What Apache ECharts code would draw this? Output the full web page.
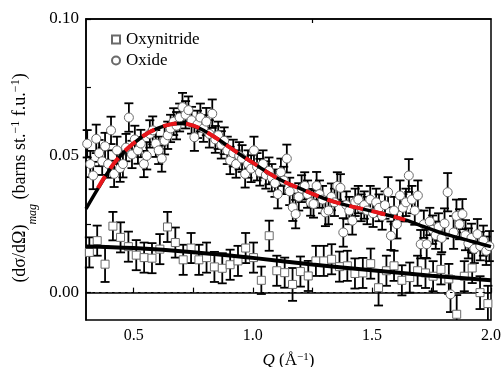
<!DOCTYPE html>
<html>
<head>
<meta charset="utf-8">
<script src="https://cdn.jsdelivr.net/npm/echarts@6/dist/echarts.min.js"></script>
<style>
html,body{margin:0;padding:0;background:#fff;}
#chart{width:502px;height:367px;}
</style>
</head>
<body>
<div id="chart"></div>
<script>
// Magnetic scattering cross-section vs Q for the oxide and oxynitride samples

const oxideQ = [0.305,0.318,0.330,0.343,0.355,0.368,0.380,0.393,0.405,0.418,0.430,0.443,0.455,0.468,0.480,0.493,
  0.505,0.518,0.530,0.543,0.555,0.568,0.580,0.593,0.605,0.618,0.630,0.643,0.655,0.668,0.680,0.693,
  0.705,0.718,0.730,0.743,0.755,0.768,0.780,0.793,0.805,0.818,0.830,0.843,0.855,0.868,0.880,0.893,
  0.905,0.918,0.930,0.943,0.955,0.968,0.980,0.993,1.005,1.018,1.030,1.043,1.055,1.068,1.080,1.093,
  1.105,1.118,1.130,1.143,1.155,1.168,1.180,1.193,1.205,1.218,1.230,1.243,1.255,1.268,1.280,1.293,
  1.305,1.318,1.330,1.343,1.355,1.368,1.380,1.393,1.405,1.418,1.430,1.443,1.455,1.468,1.480,1.493,
  1.505,1.518,1.530,1.543,1.555,1.568,1.580,1.593,1.605,1.618,1.630,1.643,1.655,1.668,1.680,1.693,
  1.705,1.718,1.730,1.743,1.755,1.768,1.780,1.793,1.805,1.818,1.830,1.843,1.855,1.868,1.880,1.893,
  1.905,1.918,1.930,1.943,1.955,1.968,1.980,1.993];

const oxideVal = [0.0544,0.0470,0.0428,0.0562,0.0510,0.0480,0.0535,0.0470,0.0593,0.0434,0.0520,0.0455,0.0470,0.0530,0.0640,0.0505,
  0.0560,0.0520,0.0545,0.0470,0.0500,0.0580,0.0593,0.0545,0.0520,0.0490,0.0555,0.0575,0.0600,0.0625,0.0610,0.0640,
  0.0678,0.0650,0.0667,0.0630,0.0568,0.0615,0.0640,0.0600,0.0625,0.0580,0.0654,0.0560,0.0575,0.0540,0.0555,0.0520,
  0.0483,0.0510,0.0470,0.0500,0.0490,0.0434,0.0470,0.0453,0.0520,0.0460,0.0440,0.0470,0.0430,0.0445,0.0420,0.0400,
  0.0360,0.0440,0.0410,0.0490,0.0370,0.0312,0.0287,0.0350,0.0380,0.0390,0.0360,0.0330,0.0324,0.0390,0.0360,0.0340,
  0.0293,0.0300,0.0350,0.0330,0.0390,0.0383,0.0220,0.0320,0.0300,0.0263,0.0330,0.0340,0.0310,0.0320,0.0300,0.0340,
  0.0290,0.0330,0.0310,0.0280,0.0320,0.0367,0.0208,0.0300,0.0250,0.0355,0.0310,0.0330,0.0428,0.0340,0.0300,0.0355,
  0.0177,0.0250,0.0177,0.0260,0.0230,0.0210,0.0240,0.0200,0.0253,0.0367,-0.0006,0.0220,0.0280,0.0250,0.0287,0.0210,
  0.0180,0.0200,0.0160,0.0214,0.0170,0.0190,0.0153,0.0170];

const oxideErr = [0.0050,0.0048,0.0050,0.0052,0.0048,0.0050,0.0049,0.0050,0.0050,0.0048,0.0050,0.0050,0.0049,0.0050,0.0052,0.0050,
  0.0050,0.0049,0.0050,0.0048,0.0050,0.0050,0.0051,0.0049,0.0050,0.0048,0.0050,0.0050,0.0050,0.0049,0.0050,0.0051,
  0.0052,0.0050,0.0050,0.0049,0.0050,0.0050,0.0051,0.0049,0.0050,0.0050,0.0052,0.0049,0.0050,0.0050,0.0049,0.0050,
  0.0050,0.0049,0.0050,0.0050,0.0049,0.0050,0.0050,0.0049,0.0050,0.0050,0.0049,0.0050,0.0050,0.0049,0.0050,0.0050,
  0.0052,0.0050,0.0050,0.0051,0.0050,0.0050,0.0052,0.0050,0.0049,0.0050,0.0050,0.0049,0.0050,0.0051,0.0050,0.0050,
  0.0050,0.0050,0.0049,0.0050,0.0050,0.0050,0.0052,0.0050,0.0050,0.0051,0.0050,0.0050,0.0049,0.0050,0.0050,0.0050,
  0.0050,0.0050,0.0049,0.0050,0.0050,0.0055,0.0052,0.0050,0.0052,0.0055,0.0050,0.0050,0.0060,0.0050,0.0052,0.0055,
  0.0052,0.0050,0.0052,0.0050,0.0052,0.0050,0.0050,0.0052,0.0055,0.0070,0.0065,0.0060,0.0060,0.0055,0.0055,0.0055,
  0.0055,0.0052,0.0052,0.0055,0.0052,0.0055,0.0052,0.0055];

const nitrQ = [0.314,0.347,0.380,0.413,0.445,0.478,0.511,0.544,0.577,0.610,0.642,0.675,0.708,0.741,0.774,0.806,
  0.839,0.872,0.905,0.938,0.970,1.003,1.036,1.069,1.101,1.134,1.167,1.200,1.233,1.265,1.298,1.331,
  1.364,1.397,1.429,1.462,1.495,1.528,1.561,1.593,1.626,1.659,1.692,1.725,1.757,1.790,1.823,1.856,
  1.888,1.921,1.954,1.987];

const nitrVal = [0.0147,0.0190,0.0104,0.0243,0.0202,0.0168,0.0137,0.0128,0.0126,0.0159,0.0240,0.0183,0.0120,0.0163,0.0120,0.0128,
  0.0094,0.0089,0.0102,0.0116,0.0163,0.0128,0.0045,0.0208,0.0080,0.0073,0.0030,0.0077,0.0061,0.0116,0.0116,0.0122,
  0.0095,0.0098,0.0070,0.0072,0.0106,0.0018,0.0080,0.0098,0.0045,0.0055,0.0080,0.0072,0.0060,0.0085,0.0050,-0.0079,
  0.0060,0.0090,0.0000,-0.0040];

const nitrErr = [0.0055,0.0055,0.0065,0.0052,0.0055,0.0055,0.0055,0.0055,0.0055,0.0055,0.0055,0.0055,0.0055,0.0055,0.0055,0.0055,
  0.0055,0.0055,0.0055,0.0055,0.0055,0.0055,0.0050,0.0055,0.0055,0.0055,0.0060,0.0055,0.0055,0.0055,0.0055,0.0055,
  0.0055,0.0055,0.0055,0.0055,0.0055,0.0065,0.0055,0.0055,0.0055,0.0055,0.0055,0.0055,0.0055,0.0055,0.0055,0.0070,
  0.0055,0.0055,0.0060,0.0065];

// Fitted model curves
const oxideFitQ = [0.30,0.35,0.40,0.45,0.50,0.55,0.60,0.65,0.70,0.75,0.80,0.85,0.90,0.95,1.00,1.05,1.10,1.15,
  1.20,1.25,1.30,1.35,1.40,1.45,1.50,1.55,1.60,1.65,1.70,1.75,1.80,1.85,1.90,1.95,2.00];
const oxideFitVal = [0.0306,0.0380,0.0450,0.0505,0.0545,0.0578,0.0600,0.0614,0.0618,0.0610,0.0590,0.0563,0.0533,0.0503,0.0475,0.0446,0.0420,0.0398,
  0.0380,0.0361,0.0344,0.0330,0.0318,0.0308,0.0298,0.0287,0.0276,0.0263,0.0247,0.0231,0.0216,0.0204,0.0192,0.0180,0.0168];

const altFitQ = [0.35,0.40,0.45,0.50,0.55,0.60,0.65,0.70,0.75,0.80,0.85,0.90,0.95,1.00,1.05,1.10,1.15,
  1.20,1.25,1.30,1.35,1.40,1.45,1.50,1.55,1.60,1.64];
const altFitVal = [0.0382,0.0452,0.0506,0.0546,0.0578,0.0600,0.0614,0.0618,0.0610,0.0590,0.0563,0.0533,0.0503,0.0475,0.0446,0.0420,0.0398,
  0.0380,0.0361,0.0344,0.0330,0.0318,0.0308,0.0298,0.0287,0.0276,0.0266];

const nitrFitQ = [0.30,0.50,0.75,1.00,1.25,1.50,1.75,2.00];
const nitrFitVal = [0.0169,0.0163,0.0148,0.0127,0.0103,0.0082,0.0062,0.0045];

const xLabelValues = [0.5, 1.0, 1.5, 2.0];
const xTickValues = [0.5, 0.75, 1.0, 1.25, 1.5, 1.75, 2.0];
const yLabelValues = [0.00, 0.05, 0.10];
const yTickValues = [0.00, 0.025, 0.05, 0.075, 0.10];

const FONT = 'Liberation Serif';

function pairs(xs, ys) { return xs.map((x, i) => [x, ys[i]]); }
function bars(xs, ys, es) { return xs.map((x, i) => [x, ys[i] - es[i], ys[i] + es[i]]); }

function renderErrorBar(params, api) {
  const x = api.value(0);
  const lo = api.coord([x, api.value(1)]);
  const hi = api.coord([x, api.value(2)]);
  const cs = params.coordSys;
  const top = cs.y, bottom = cs.y + cs.height;
  const y1 = Math.max(hi[1], top), y2 = Math.min(lo[1], bottom);
  const half = 4.5;
  const style = { stroke: '#000', lineWidth: 1.8 };
  const children = [{ type: 'line', shape: { x1: hi[0], y1: y1, x2: hi[0], y2: y2 }, style: style }];
  if (hi[1] >= top) children.push({ type: 'line', shape: { x1: hi[0] - half, y1: hi[1], x2: hi[0] + half, y2: hi[1] }, style: style });
  if (lo[1] <= bottom) children.push({ type: 'line', shape: { x1: lo[0] - half, y1: lo[1], x2: lo[0] + half, y2: lo[1] }, style: style });
  return { type: 'group', children: children };
}

const chart = echarts.init(document.getElementById('chart'), null, { renderer: 'canvas' });

const option = {
  backgroundColor: '#fff',
  animation: false,
  textStyle: { fontFamily: FONT, color: '#000' },
  grid: {
    left: 86, right: 11, top: 19, bottom: 47, outerBoundsMode: 'none', containLabel: false,
    show: true, borderColor: '#000', borderWidth: 1.5, backgroundColor: 'transparent'
  },
  legend: {
    orient: 'vertical', left: 106, top: 26, itemGap: 4,
    itemWidth: 8, itemHeight: 8,
    textStyle: { fontFamily: FONT, fontSize: 17, color: '#000', padding: [0, 0, 0, 1] },
    data: ['Oxynitride', 'Oxide']
  },
  xAxis: [{
    type: 'value', min: 0.3, max: 2.0,
    name: '{i|Q} (Å{p|−1})', nameLocation: 'middle', nameGap: 32,
    nameTextStyle: {
      fontFamily: FONT, fontSize: 17, color: '#000',
      rich: {
        i: { fontFamily: FONT, fontSize: 17, fontStyle: 'italic', color: '#000' },
        p: { fontFamily: FONT, fontSize: 11, color: '#000', verticalAlign: 'top', lineHeight: 11 }
      }
    },
    axisLine: { show: true, lineStyle: { color: '#000', width: 1.5 } },
    axisTick: { show: true, inside: true, length: 5, customValues: xTickValues, lineStyle: { color: '#000', width: 1.2 } },
    axisLabel: { customValues: xLabelValues, margin: 8, fontFamily: FONT, fontSize: 16, color: '#000', formatter: v => v.toFixed(1) },
    splitLine: { show: false }
  }, {
    type: 'value', min: 0.3, max: 2.0, position: 'top',
    axisLine: { show: true, lineStyle: { color: '#000', width: 1.5 } },
    axisTick: { show: true, inside: true, length: 4, customValues: [1.25], lineStyle: { color: '#000', width: 1.2 } },
    axisLabel: { show: false },
    splitLine: { show: false }
  }],
  yAxis: {
    type: 'value', min: -0.01, max: 0.10,
    name: '{a|(dσ/dΩ)}{s|mag}{a| (barns st.}{p|−1}{a| f.u.}{p|−1}{a|)}',
    nameLocation: 'middle', nameGap: 46, nameRotate: 90,
    nameTextStyle: {
      fontFamily: FONT, fontSize: 18, color: '#000', padding: [0, 17, 0, 0],
      rich: {
        a: { fontFamily: FONT, fontSize: 18, color: '#000', lineHeight: 22 },
        s: { fontFamily: FONT, fontSize: 12, fontStyle: 'italic', color: '#000', verticalAlign: 'bottom', lineHeight: 12, padding: [0, 0, -7, 0] },
        p: { fontFamily: FONT, fontSize: 12, color: '#000', verticalAlign: 'top', lineHeight: 12 }
      }
    },
    axisLine: { show: true, lineStyle: { color: '#000', width: 1.5 } },
    axisTick: { show: true, inside: true, length: 5, customValues: yTickValues, lineStyle: { color: '#000', width: 1.2 } },
    axisLabel: { customValues: yLabelValues, margin: 7, fontFamily: FONT, fontSize: 17, color: '#000', formatter: v => v.toFixed(2) },
    splitLine: { show: false }
  },
  series: [
    {
      type: 'custom', name: 'nitrBars', renderItem: renderErrorBar,
      data: bars(nitrQ, nitrVal, nitrErr), encode: { x: 0, y: [1, 2] }, z: 2, silent: true,
      markLine: {
        silent: true, symbol: 'none', label: { show: false },
        lineStyle: { color: '#000', type: [2.5, 4], width: 1 },
        data: [{ yAxis: 0 }]
      }
    },
    {
      type: 'custom', name: 'oxideBars', renderItem: renderErrorBar,
      data: bars(oxideQ, oxideVal, oxideErr), encode: { x: 0, y: [1, 2] }, z: 2, silent: true
    },
    {
      type: 'scatter', name: 'Oxynitride', symbol: 'rect', symbolSize: 8,
      data: pairs(nitrQ, nitrVal), z: 3,
      itemStyle: { color: '#fff', borderColor: '#6a6a6a', borderWidth: 1, opacity: 1 }
    },
    {
      type: 'scatter', name: 'Oxide', symbol: 'circle', symbolSize: 9,
      data: pairs(oxideQ, oxideVal), z: 3,
      itemStyle: { color: '#fff', borderColor: '#6a6a6a', borderWidth: 1, opacity: 1 }
    },
    {
      type: 'line', name: 'oxideFit', data: pairs(oxideFitQ, oxideFitVal), smooth: 0.4,
      showSymbol: false, symbol: 'none', lineStyle: { color: '#000', width: 3.5 }, z: 4, silent: true
    },
    {
      type: 'line', name: 'nitrFit', data: pairs(nitrFitQ, nitrFitVal), smooth: 0.4,
      showSymbol: false, symbol: 'none', lineStyle: { color: '#000', width: 4 }, z: 4, silent: true
    },
    {
      type: 'line', name: 'altFit', data: pairs(altFitQ, altFitVal), smooth: 0.4,
      showSymbol: false, symbol: 'none', lineStyle: { color: '#e8161b', width: 4, type: [14, 9] }, z: 5, silent: true
    }
  ]
};

chart.setOption(option);
</script>
</body>
</html>
